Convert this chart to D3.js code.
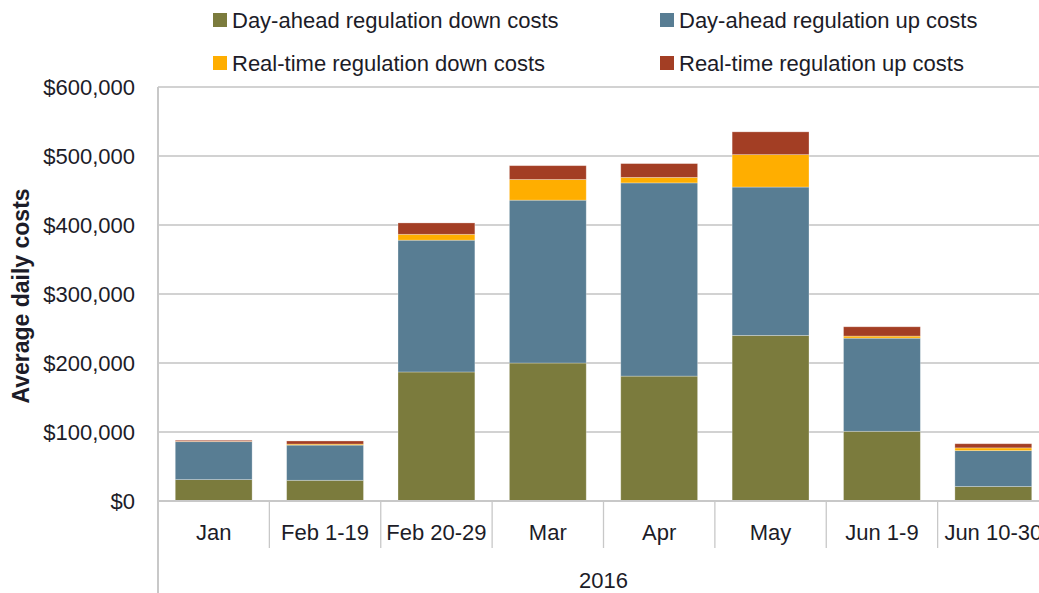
<!DOCTYPE html>
<html>
<head>
<meta charset="utf-8">
<script src="https://cdn.jsdelivr.net/npm/d3@7"></script>
<style>
  body { margin: 0; background: #fff; }
  svg { display: block; font-family: "Liberation Sans", Arial, sans-serif; }
</style>
</head>
<body>
<div id="chart"></div>
<script>
// data
var categories = ["Jan", "Feb 1-19", "Feb 20-29", "Mar", "Apr", "May", "Jun 1-9", "Jun 10-30"];
var daDown = [31000, 30000, 187000, 200000, 181000, 240000, 101000, 21000];
var daUp = [55000, 51000, 191000, 236000, 280000, 215000, 135000, 52000];
var rtDown = [500, 1500, 8500, 30000, 8000, 47000, 3000, 4000];
var rtUp = [1500, 4500, 16500, 20000, 20000, 33000, 13500, 6000];
var yTicks = [0, 100000, 200000, 300000, 400000, 500000, 600000];
var yearLabel = "2016";

var seriesNames = [
    "Day-ahead regulation down costs",
    "Day-ahead regulation up costs",
    "Real-time regulation down costs",
    "Real-time regulation up costs"
];
var seriesKeys = ["daDown", "daUp", "rtDown", "rtUp"];
var colors = ["#7b7b3d", "#587d93", "#ffae00", "#a33e24"];

var attrs = {
    svgWidth: 1039,
    svgHeight: 593,
    marginLeft: 158,
    marginTop: 87,
    chartWidth: 891,
    chartHeight: 414,
    fontSize: "22px"
};

var rows = categories.map(function (c, i) {
    return { cat: c, daDown: daDown[i], daUp: daUp[i], rtDown: rtDown[i], rtUp: rtUp[i] };
});

var svg = d3.select("#chart").append("svg")
    .attr("width", attrs.svgWidth)
    .attr("height", attrs.svgHeight);

var chart = svg.append("g")
    .attr("transform", "translate(" + attrs.marginLeft + "," + attrs.marginTop + ")");

var xScale = d3.scaleBand()
    .domain(categories)
    .range([0, attrs.chartWidth])
    .paddingInner(0.31)
    .paddingOuter(0.155);

var yScale = d3.scaleLinear()
    .domain([0, 600000])
    .range([attrs.chartHeight, 0]);

// gridlines
chart.append("g")
    .selectAll("line")
    .data(yTicks)
    .enter().append("line")
    .attr("x1", 0)
    .attr("x2", attrs.chartWidth)
    .attr("y1", function (d) { return yScale(d); })
    .attr("y2", function (d) { return yScale(d); })
    .attr("stroke", "#d2d2d2")
    .attr("stroke-width", 2);

// y tick labels
var fmt = d3.format("$,");
chart.append("g")
    .selectAll("text")
    .data(yTicks)
    .enter().append("text")
    .attr("x", -23)
    .attr("y", function (d) { return yScale(d); })
    .attr("dy", "0.35em")
    .attr("text-anchor", "end")
    .attr("fill", "#1c1c28")
    .style("font-size", attrs.fontSize)
    .text(function (d) { return fmt(d); });

// stacked bars
var stack = d3.stack().keys(seriesKeys);
var stacked = stack(rows);

chart.append("g")
    .selectAll("g")
    .data(stacked)
    .enter().append("g")
    .attr("fill", function (d, i) { return colors[i]; })
    .selectAll("rect")
    .data(function (d) { return d; })
    .enter().append("rect")
    .attr("x", function (d) { return xScale(d.data.cat); })
    .attr("width", xScale.bandwidth())
    .attr("y", function (d) { return yScale(d[1]); })
    .attr("height", function (d) { return yScale(d[0]) - yScale(d[1]); })
    .attr("stroke", "#ffffff")
    .attr("stroke-opacity", 0.35)
    .attr("stroke-width", 0.8);

// category axis
var axisG = chart.append("g")
    .attr("transform", "translate(0," + attrs.chartHeight + ")");

axisG.append("line")
    .attr("x1", 0).attr("x2", attrs.chartWidth)
    .attr("y1", 0).attr("y2", 0)
    .attr("stroke", "#c8c8c8")
    .attr("stroke-width", 2);

var step = xScale.step();
axisG.selectAll(".sep")
    .data(d3.range(1, categories.length + 1))
    .enter().append("line")
    .attr("class", "sep")
    .attr("x1", function (d) { return d * step; })
    .attr("x2", function (d) { return d * step; })
    .attr("y1", 0)
    .attr("y2", 47)
    .attr("stroke", "#c8c8c8")
    .attr("stroke-width", 1.3);

axisG.selectAll(".cat")
    .data(categories)
    .enter().append("text")
    .attr("class", "cat")
    .attr("x", function (d) { return xScale(d) + xScale.bandwidth() / 2; })
    .attr("y", 39)
    .attr("text-anchor", "middle")
    .attr("fill", "#1c1c28")
    .style("font-size", attrs.fontSize)
    .text(function (d) { return d; });

axisG.append("text")
    .attr("x", attrs.chartWidth / 2)
    .attr("y", 87)
    .attr("text-anchor", "middle")
    .attr("fill", "#1c1c28")
    .style("font-size", attrs.fontSize)
    .text(yearLabel);

// y axis line
chart.append("line")
    .attr("x1", 0).attr("x2", 0)
    .attr("y1", 0).attr("y2", attrs.svgHeight - attrs.marginTop)
    .attr("stroke", "#c8c8c8")
    .attr("stroke-width", 2);

// y title
svg.append("text")
    .attr("transform", "translate(29," + (attrs.marginTop + attrs.chartHeight / 2 + 2) + ") rotate(-90)")
    .attr("text-anchor", "middle")
    .attr("fill", "#1c1c28")
    .style("font-size", "23px")
    .style("font-weight", "bold")
    .text("Average daily costs");

// legend
var legendPos = [[213, 20], [660, 20], [213, 63], [660, 63]];
var legend = svg.append("g")
    .selectAll("g")
    .data(seriesNames)
    .enter().append("g")
    .attr("transform", function (d, i) { return "translate(" + legendPos[i][0] + "," + legendPos[i][1] + ")"; });

legend.append("rect")
    .attr("x", 0).attr("y", -7)
    .attr("width", 14).attr("height", 14)
    .attr("fill", function (d, i) { return colors[i]; });

legend.append("text")
    .attr("x", 19)
    .attr("dy", "0.35em")
    .attr("fill", "#1c1c28")
    .style("font-size", attrs.fontSize)
    .text(function (d) { return d; });
</script>
</body>
</html>
